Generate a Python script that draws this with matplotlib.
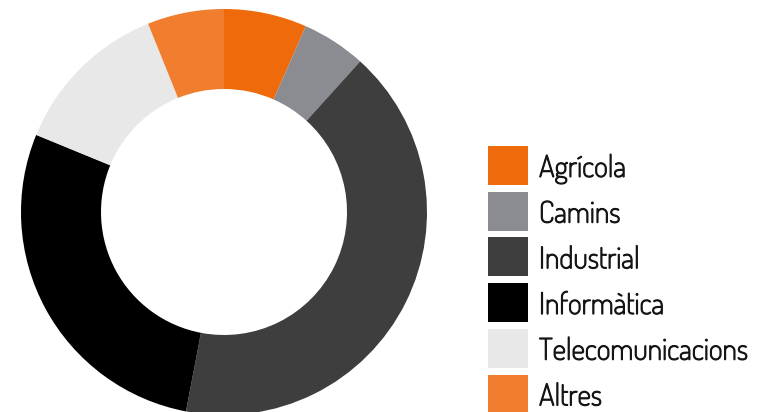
import matplotlib
matplotlib.use("Agg")
import matplotlib.pyplot as plt
import matplotlib.patheffects as pe
from matplotlib.patches import Rectangle

labels = ["Agrícola", "Camins", "Industrial", "Informàtica", "Telecomunicacions", "Altres"]
values = [6.6, 5.1, 41.3, 28.2, 12.7, 6.1]
colors = ["#ee6a0a", "#8a8c91", "#3e3e3e", "#000000", "#e8e8e8", "#f07e2e"]

W, H = 776, 412
fig = plt.figure(figsize=(W / 100, H / 100), dpi=100)
ax = fig.add_axes([0, 0, 1, 1])

# donut; y axis inverted so counterclock=True draws clockwise on screen
ax.pie(
    values,
    colors=colors,
    startangle=-90,
    counterclock=True,
    center=(224, 212),
    radius=203,
    wedgeprops=dict(width=80, linewidth=0),
    frame=True,
)
ax.set_xlim(0, W)
ax.set_ylim(H, 0)
ax.axis("off")

# legend (Dosis only ships the light default weight here, so thicken with a stroke)
for i, (lab, col) in enumerate(zip(labels, colors)):
    top = 146 + i * 45.7
    ax.add_patch(Rectangle((488, top), 40, 39, facecolor=col, edgecolor="none"))
    ax.text(539, top + 31, lab, fontsize=21.5, family=["Dosis", "DejaVu Sans"],
            color="#151515", va="baseline", ha="left",
            path_effects=[pe.withStroke(linewidth=0.8, foreground="#151515")])

fig.savefig("out.png", dpi=100)
